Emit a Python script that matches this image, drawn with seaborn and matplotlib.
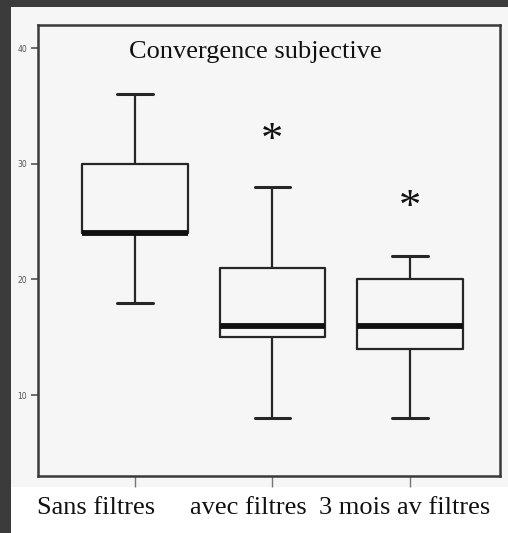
import numpy as np
import pandas as pd
import matplotlib
matplotlib.use('Agg')
import matplotlib.pyplot as plt
from matplotlib.patches import Rectangle
import seaborn as sns

# Five-number summaries (min, Q1, median, Q3, max)
groups = ['Sans filtres', 'avec filtres', '3 mois av filtres']
sans_filtres = [18, 24, 24, 30, 36]
avec_filtres = [8, 15, 16, 21, 28]
trois_mois = [8, 14, 16, 20, 22]
y_ticks = [10, 20, 30, 40]
title = 'Convergence subjective'

df = pd.DataFrame({
    'groupe': np.repeat(groups, 5),
    'valeur': sans_filtres + avec_filtres + trois_mois,
})

sns.set_style('white')
plt.rcParams['font.family'] = ['Liberation Serif', 'DejaVu Serif']

W, H = 508, 533
fig = plt.figure(figsize=(W / 100, H / 100), dpi=100, facecolor='#3b3b3b')

# paper background (scanned look)
fig.patches.append(Rectangle((11 / W, 0), 1, 1 - 7 / H, transform=fig.transFigure,
                             facecolor='white', edgecolor='none', zorder=-2))
fig.patches.append(Rectangle((11 / W, 1 - 487 / H), 1, (487 - 7) / H, transform=fig.transFigure,
                             facecolor='#f6f6f6', edgecolor='none', zorder=-1))

ax = fig.add_axes([38 / W, 1 - 476 / H, (500 - 38) / W, (476 - 25) / H])
ax.set_facecolor('#f6f6f6')

line_col = '#262626'
sns.boxplot(data=df, x='groupe', y='valeur', ax=ax, whis=(0, 100), width=0.77,
            fill=False, color=line_col, linewidth=1.6,
            medianprops=dict(color='#111111', linewidth=4.2),
            capprops=dict(linewidth=2.2), capwidths=0.26)

ax.set_xlim(-0.705, 2.655)
ax.set_ylim(3, 42)
ax.set_yticks(y_ticks)
ax.set_yticklabels([str(t) for t in y_ticks], fontsize=5.5, color='#555555',
                   family='DejaVu Sans')
ax.set_xticks(range(len(groups)))
ax.set_xticklabels(['' for g in groups])
ax.tick_params(axis='y', direction='out', length=5, width=1.2, color='#555555', pad=3, left=True)
ax.tick_params(axis='x', direction='out', length=8, width=1.0, color='#777777', bottom=True)
ax.set_xlabel('')
ax.set_ylabel('')
for s in ax.spines.values():
    s.set_color('#3a3a3a')
    s.set_linewidth(1.8)

# titre et étoiles de significativité
fig.text(255 / W, 1 - 52 / H, title, ha='center', va='center', fontsize=19, color='#111111')
ax.text(1, 32.0, '*', ha='center', va='center', fontsize=32, color='#111111')
ax.text(2, 26.2, '*', ha='center', va='center', fontsize=32, color='#111111')

# étiquettes de catégories
label_x = [96, 248, 405]
for g, lx in zip(groups, label_x):
    fig.text(lx / W, 1 - 508 / H, g, ha='center', va='center', fontsize=19, color='#111111')

fig.savefig('out.png', dpi=100, facecolor=fig.get_facecolor())
